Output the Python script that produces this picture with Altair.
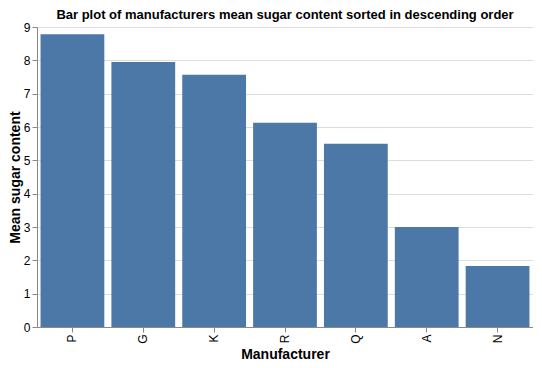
import altair as alt
import pandas as pd

manufacturers = ["P", "G", "K", "R", "Q", "A", "N"]
mean_sugar = [8.78, 7.95, 7.57, 6.13, 5.5, 3.0, 1.83]

df = pd.DataFrame({"mfr": manufacturers, "sugars": mean_sugar})

chart = alt.Chart(df).mark_bar().encode(
    x=alt.X("mfr:N", sort="-y", title="Manufacturer"),
    y=alt.Y("sugars:Q", title="Mean sugar content", axis=alt.Axis(titlePadding=1)),
).properties(
    width=496,
    height=300,
    padding={"top": 1, "left": 0, "right": 0, "bottom": 0},
    title="Bar plot of manufacturers mean sugar content sorted in descending order",
).configure_axis(
    labelFontSize=12,
    titleFontSize=14,
).configure_title(fontSize=13, offset=-1)

chart.save("out.html", embed_options={"renderer": "svg", "actions": False})
